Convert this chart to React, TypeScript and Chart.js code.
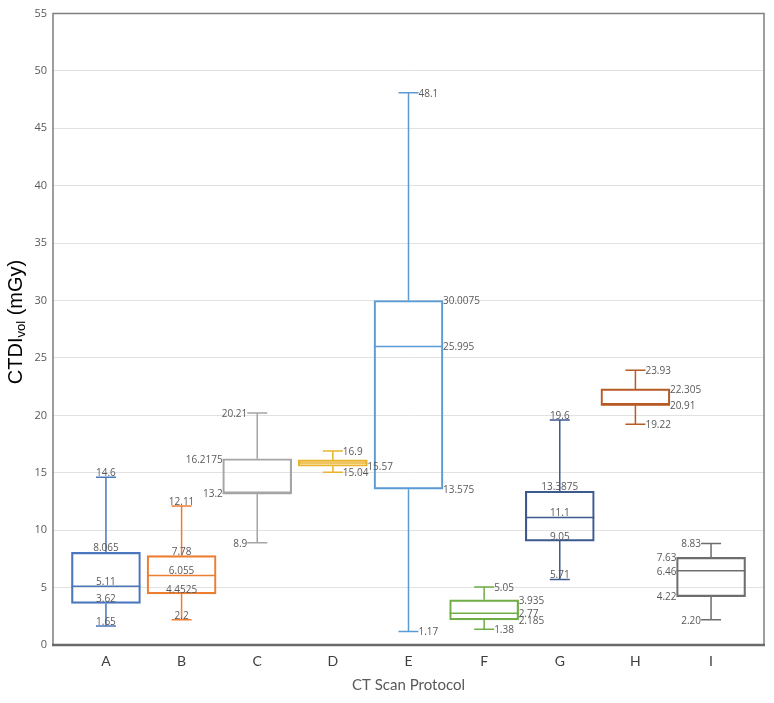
import React, { useEffect, useRef } from "react";
import { Chart, registerables } from "chart.js";

Chart.register(...registerables);

const categories = ["A", "B", "C", "D", "E", "F", "G", "H", "I"];
const mins = [1.65, 2.2, 8.9, 15.04, 1.17, 1.38, 5.71, 19.22, 2.2];
const q1s = [3.62, 4.4525, 13.2, 15.57, 13.575, 2.185, 9.05, 20.91, 4.22];
const medians = [5.11, 6.055, 13.2, 15.85, 25.995, 2.77, 11.1, 20.91, 6.46];
const q3s = [8.065, 7.78, 16.2175, 16.12, 30.0075, 3.935, 13.3875, 22.305, 7.63];
const maxs = [14.6, 12.11, 20.21, 16.9, 48.1, 5.05, 19.6, 23.93, 8.83];
const valueLabels = [
  ["14.6", "8.065", "5.11", "3.62", "1.65"],
  ["12.11", "7.78", "6.055", "4.4525", "2.2"],
  ["20.21", "16.2175", "13.2", "8.9"],
  ["16.9", "15.57", "15.04"],
  ["48.1", "30.0075", "25.995", "13.575", "1.17"],
  ["5.05", "3.935", "2.77", "2.185", "1.38"],
  ["19.6", "13.3875", "11.1", "9.05", "5.71"],
  ["23.93", "22.305", "20.91", "19.22"],
  ["8.83", "7.63", "6.46", "4.22", "2.20"],
];
const labelSides = ["above", "above", "left", "right", "right", "right", "above", "right", "left"];
const colors = ["#4A76BE", "#ED7D31", "#A5A5A5", "#E9B32A", "#5B9BD5", "#70AD47", "#3D5A8E", "#B95A24", "#6E6E6E"];
const yTicks = [0, 5, 10, 15, 20, 25, 30, 35, 40, 45, 50, 55];

const BOX_W = 69;
const CAP_W = 20;

const boxPlugin = {
  id: "boxPlugin",
  afterDatasetsDraw(chart: any) {
    const ctx = chart.ctx;
    const xs = chart.scales.x;
    const ys = chart.scales.y;
    ctx.save();
    categories.forEach((_, i) => {
      const x = xs.getPixelForValue(i);
      const col = colors[i];
      const yMax = ys.getPixelForValue(maxs[i]);
      const yMin = ys.getPixelForValue(mins[i]);
      const yQ1 = ys.getPixelForValue(q1s[i]);
      const yQ3 = ys.getPixelForValue(q3s[i]);
      const yMed = ys.getPixelForValue(medians[i]);
      ctx.strokeStyle = col;
      ctx.lineWidth = 1.5;
      ctx.beginPath();
      ctx.moveTo(x, yQ3);
      ctx.lineTo(x, yMax);
      ctx.moveTo(x - CAP_W / 2, yMax);
      ctx.lineTo(x + CAP_W / 2, yMax);
      ctx.moveTo(x, yQ1);
      ctx.lineTo(x, yMin);
      ctx.moveTo(x - CAP_W / 2, yMin);
      ctx.lineTo(x + CAP_W / 2, yMin);
      ctx.moveTo(x - BOX_W / 2, yMed);
      ctx.lineTo(x + BOX_W / 2, yMed);
      ctx.stroke();

      ctx.fillStyle = "#595959";
      ctx.font = "10px 'Open Sans'";
      const side = labelSides[i];
      valueLabels[i].forEach((t) => {
        const v = parseFloat(t);
        const y = ys.getPixelForValue(v);
        const isWhisker = v === maxs[i] || v === mins[i];
        const half = isWhisker ? CAP_W / 2 : BOX_W / 2;
        if (side === "above") {
          ctx.textAlign = "center";
          ctx.textBaseline = "bottom";
          ctx.fillText(t, x, y + 1);
        } else if (side === "left") {
          ctx.textAlign = "right";
          ctx.textBaseline = "middle";
          ctx.fillText(t, x - half, y + 1);
        } else {
          ctx.textAlign = "left";
          ctx.textBaseline = "middle";
          ctx.fillText(t, x + half, y + 1);
        }
      });
    });
    ctx.restore();
  },
  afterDraw(chart: any) {
    const ctx = chart.ctx;
    const a = chart.chartArea;
    ctx.save();
    ctx.strokeStyle = "#7F7F7F";
    ctx.lineWidth = 1.5;
    ctx.strokeRect(a.left, a.top, a.right - a.left, a.bottom - a.top);
    ctx.strokeStyle = "#6A6A6A";
    ctx.lineWidth = 2.5;
    ctx.beginPath();
    ctx.moveTo(a.left - 1, a.bottom);
    ctx.lineTo(a.right + 1, a.bottom);
    ctx.stroke();

    ctx.fillStyle = "#595959";
    ctx.font = "15px Lato";
    ctx.textAlign = "center";
    ctx.textBaseline = "middle";
    ctx.fillText("CT Scan Protocol", (a.left + a.right) / 2, 685);

    const big = "20px 'Liberation Sans'";
    const small = "13px 'Liberation Sans'";
    ctx.font = big;
    const w1 = ctx.measureText("CTDI").width;
    const w3 = ctx.measureText(" (mGy)").width;
    ctx.font = small;
    const w2 = ctx.measureText("vol").width;
    const total = w1 + w2 + w3;
    ctx.translate(16, 322);
    ctx.rotate(-Math.PI / 2);
    ctx.fillStyle = "#000000";
    ctx.textAlign = "left";
    ctx.textBaseline = "middle";
    let cx = -total / 2;
    ctx.font = big;
    ctx.fillText("CTDI", cx, 0);
    cx += w1;
    ctx.font = small;
    ctx.fillText("vol", cx, 5);
    cx += w2;
    ctx.font = big;
    ctx.fillText(" (mGy)", cx, 0);
    ctx.restore();
  },
};

export default function App() {
  const ref = useRef<HTMLCanvasElement | null>(null);
  useEffect(() => {
    if (!ref.current) return;
    const chart = new Chart(ref.current, {
      type: "bar",
      data: {
        datasets: [
          {
            data: categories.map((_, i) => ({ x: i, y: [q1s[i], q3s[i]] })) as any,
            backgroundColor: "rgba(255,255,255,0)",
            borderColor: colors,
            borderWidth: 1.5,
            borderSkipped: false,
            barThickness: BOX_W,
          } as any,
        ],
      },
      options: {
        animation: false,
        responsive: true,
        maintainAspectRatio: false,
        layout: { padding: { top: 13.5, right: 10, left: 0, bottom: 0 } },
        plugins: { legend: { display: false }, tooltip: { enabled: false } },
        scales: {
          x: {
            type: "linear",
            offset: false,
            min: -0.7,
            max: 8.7,
            afterBuildTicks: (s: any) => {
              s.ticks = categories.map((_, i) => ({ value: i }));
            },
            afterFit: (s: any) => {
              s.height = 58;
            },
            ticks: {
              autoSkip: false,
              maxRotation: 0,
              padding: 8,
              color: "#404040",
              font: { family: "Lato", size: 14 },
              callback: (v: any) => categories[v] ?? "",
            },
            grid: { display: false, drawTicks: false, offset: false },
            border: { display: false },
          },
          y: {
            min: 0,
            max: 55,
            afterBuildTicks: (s: any) => {
              s.ticks = yTicks.map((v) => ({ value: v }));
            },
            afterFit: (s: any) => {
              s.width = 53;
            },
            ticks: {
              padding: 6,
              color: "#595959",
              font: { family: "Open Sans", size: 11 },
            },
            grid: { color: "#E2E2E2", lineWidth: 1, drawTicks: false },
            border: { display: false },
          },
        },
      },
      plugins: [boxPlugin],
    });
    return () => chart.destroy();
  }, []);
  return (
    <div style={{ position: "fixed", left: 0, top: 0, width: 774, height: 703, background: "#fff" }}>
      <canvas ref={ref} />
    </div>
  );
}
